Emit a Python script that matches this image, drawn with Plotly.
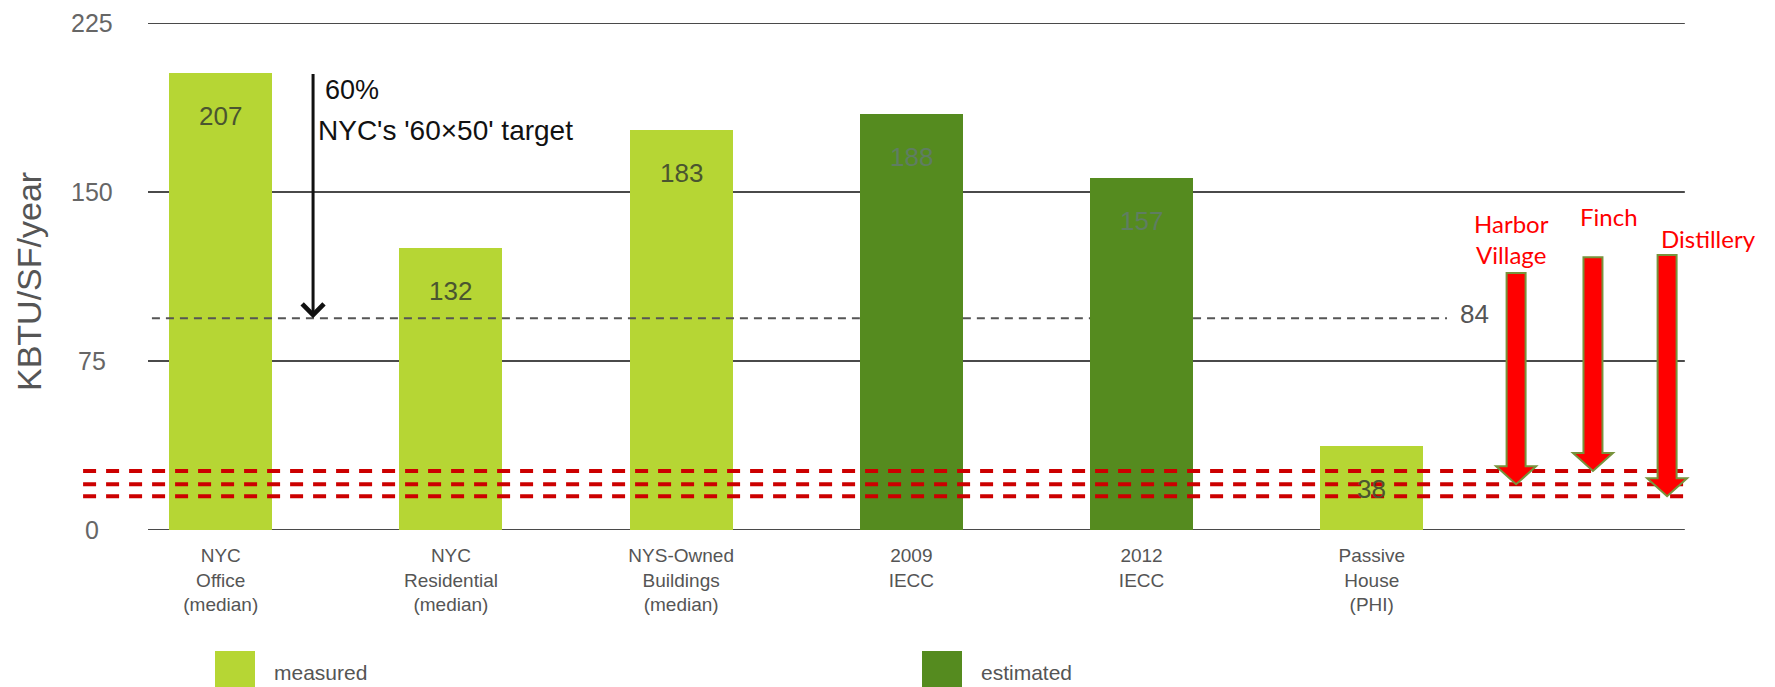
import plotly.graph_objects as go

# ---------------- data ----------------
categories = ["NYC<br>Office<br>(median)", "NYC<br>Residential<br>(median)",
              "NYS-Owned<br>Buildings<br>(median)", "2009<br>IECC", "2012<br>IECC",
              "Passive<br>House<br>(PHI)"]
bar_heights = [203, 125, 177.5, 184.5, 156, 37.5]      # bar tops as drawn
bar_labels = ["207", "132", "183", "188", "157", "38"]  # printed values
bar_type = ["measured", "measured", "measured", "estimated", "estimated", "measured"]

yticks = [0, 75, 150, 225]
target_line = 94          # drawn position of the dashed target line
target_label = "84"
arrow_from = 203          # black arrow start (top of NYC Office bar)

sites = ["Harbor<br>Village", "Finch", "Distillery"]
site_x = [5.627, 5.961, 6.283]
site_values = [20.3, 26.2, 15.0]
site_arrow_top = [114, 121, 122]
site_label_y = [129, 139, 129.5]
site_label_x = [5.609, 6.030, 6.465]

# ---------------- styles ----------------
LIGHT = "#b6d634"
DARK = "#558b1f"
colors = {"measured": LIGHT, "estimated": DARK}
GRID = "#4a4a4a"
FONT = "Liberation Sans, Arial, sans-serif"

PXU = 230.2               # pixels per x unit
x_pos = list(range(len(categories)))
BAR_W = 103 / PXU
XL, XR = -0.316, 6.360

fig = go.Figure()
fig.add_trace(go.Bar(
    x=x_pos, y=bar_heights, width=BAR_W,
    marker=dict(color=[colors[t] for t in bar_type], line=dict(width=0)),
    hoverinfo="skip", showlegend=False))

shapes = []
# gridlines
for v in yticks:
    shapes.append(dict(type="line", xref="x", yref="y", x0=XL, x1=XR, y0=v, y1=v,
                       line=dict(color=GRID, width=2.2), layer="below"))

# dashed target line (broken over dark bars, as in the original)
segs = []
start = -0.299
for i, t in enumerate(bar_type):
    if t == "estimated":
        segs.append((start, i - BAR_W / 2))
        start = i + BAR_W / 2
segs.append((start, 5.327))
for a, b in segs:
    shapes.append(dict(type="line", xref="x", yref="y", x0=a, x1=b,
                       y0=target_line, y1=target_line,
                       line=dict(color="#555555", width=2, dash="8px,6px"), layer="above"))

# red dashed site lines
for v in site_values:
    shapes.append(dict(type="line", xref="x", yref="y", x0=-0.598, x1=6.369, y0=v, y1=v,
                       line=dict(color="#cc0000", width=4, dash="13px,10px"), layer="above"))

# red block arrows
PX_X = 1 / PXU
PX_Y = 225 / 507
hw = 9.5 * PX_X
hhw = 20 * PX_X
hh = 18 * PX_Y
for xc, yv, yt in zip(site_x, site_values, site_arrow_top):
    path = (f"M {xc-hw},{yt} L {xc+hw},{yt} L {xc+hw},{yv+hh} L {xc+hhw},{yv+hh} "
            f"L {xc},{yv} L {xc-hhw},{yv+hh} L {xc-hw},{yv+hh} Z")
    shapes.append(dict(type="path", xref="x", yref="y", path=path,
                       fillcolor="#ff0000", line=dict(color="#77933c", width=2),
                       layer="above"))

# legend swatches
shapes.append(dict(type="rect", xref="paper", yref="paper",
                   x0=(215 - 60) / 1700, x1=(255 - 60) / 1700,
                   y0=-0.32, y1=(530 - 651) / 507, fillcolor=LIGHT, line=dict(width=0)))
shapes.append(dict(type="rect", xref="paper", yref="paper",
                   x0=(922 - 60) / 1700, x1=(962 - 60) / 1700,
                   y0=-0.32, y1=(530 - 651) / 507, fillcolor=DARK, line=dict(width=0)))

annotations = []
# y tick labels (centered)
for v in yticks:
    annotations.append(dict(x=-0.559, y=v, xref="x", yref="y", text=str(v),
                            showarrow=False, xanchor="center", yanchor="middle",
                            font=dict(size=25, color="#666666", family=FONT)))
# y title
annotations.append(dict(x=(29 - 60) / 1700, y=(530 - 282) / 507, xref="paper", yref="paper",
                        text="KBTU/SF/year", textangle=-90, showarrow=False,
                        xanchor="center", yanchor="middle",
                        font=dict(size=34, color="#555555", family=FONT)))
# bar value labels
for i, (h, lab, t) in enumerate(zip(bar_heights, bar_labels, bar_type)):
    annotations.append(dict(x=i, y=h, xref="x", yref="y", text=lab, showarrow=False,
                            yshift=-43, xanchor="center", yanchor="middle",
                            font=dict(size=26, family=FONT,
                                      color="#4a5530" if t == "measured" else "#5f7d62")))
# target label
annotations.append(dict(x=5.448, y=target_line, xref="x", yref="y", text=target_label,
                        showarrow=False, yshift=4, xanchor="center", yanchor="middle",
                        font=dict(size=26, color="#555555", family=FONT)))
# black arrow
annotations.append(dict(x=0.401, y=target_line, ax=0.401, ay=arrow_from,
                        xref="x", yref="y", axref="x", ayref="y", text="",
                        showarrow=True, arrowhead=4, arrowsize=1.4, arrowwidth=3,
                        arrowcolor="#111111"))
annotations.append(dict(x=0.445, y=195.3, xref="x", yref="y", text="60%",
                        showarrow=False, xanchor="left", yanchor="middle",
                        font=dict(size=27, color="#111111", family=FONT)))
annotations.append(dict(x=0.415, y=177.5, xref="x", yref="y",
                        text="NYC's '60×50' target", showarrow=False,
                        xanchor="left", yanchor="middle",
                        font=dict(size=28, color="#111111", family=FONT)))
# site labels
for s, sx, sy in zip(sites, site_label_x, site_label_y):
    annotations.append(dict(x=sx, y=sy, xref="x", yref="y", text=s, showarrow=False,
                            xanchor="center", yanchor="middle",
                            font=dict(size=24, color="#ff0000", family="Lato, sans-serif")))
# legend text
annotations.append(dict(x=(272 - 60) / 1700, y=(530 - 673) / 507, xref="paper", yref="paper",
                        text="measured", showarrow=False, xanchor="left", yanchor="middle",
                        font=dict(size=21, color="#555555", family=FONT)))
annotations.append(dict(x=(979 - 60) / 1700, y=(530 - 673) / 507, xref="paper", yref="paper",
                        text="estimated", showarrow=False, xanchor="left", yanchor="middle",
                        font=dict(size=21, color="#555555", family=FONT)))

x0 = -(220.75 - 60) / PXU
fig.update_layout(
    width=1775, height=687,
    margin=dict(l=60, r=15, t=23, b=157),
    paper_bgcolor="white", plot_bgcolor="white",
    shapes=shapes, annotations=annotations,
    xaxis=dict(range=[x0, x0 + 1700 / PXU], tickvals=x_pos, ticktext=categories,
               showgrid=False, zeroline=False, showline=False, ticks="",
               ticklabelstandoff=12,
               tickfont=dict(size=19, color="#555555", family=FONT), fixedrange=True),
    yaxis=dict(range=[0, 225], showticklabels=False, showgrid=False,
               zeroline=False, showline=False, fixedrange=True),
    bargap=0,
)

fig.write_html("out.html")
